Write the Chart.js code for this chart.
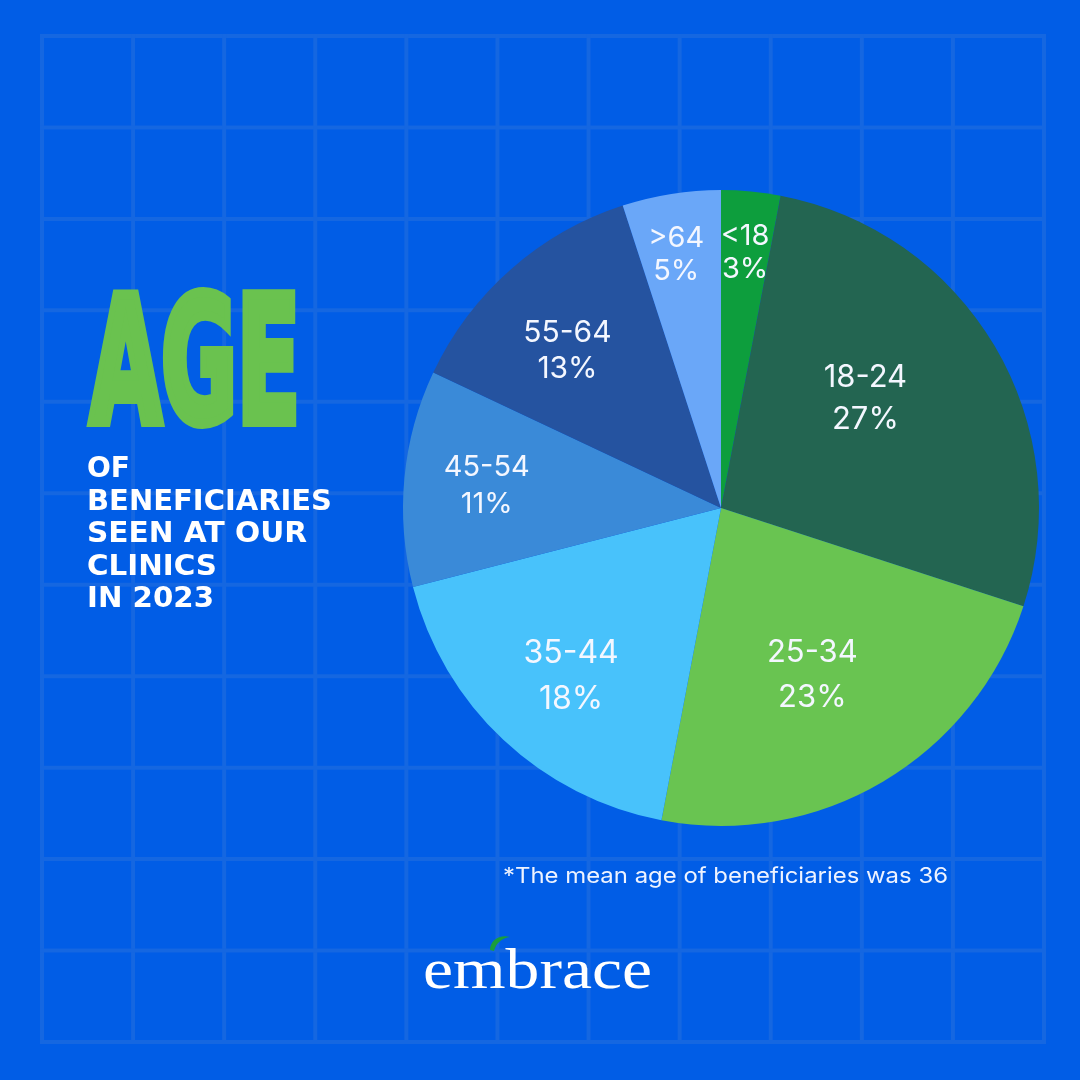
<!DOCTYPE html>
<html><head><meta charset="utf-8">
<script src="https://cdn.jsdelivr.net/npm/chart.js@4.4.1/dist/chart.umd.min.js"></script>
<style>
html,body{margin:0;padding:0;background:#015de6;}
#wrap{position:relative;width:1080px;height:1080px;overflow:hidden;background:#015de6;}
#c{position:absolute;left:0;top:0;}
#ov{position:absolute;left:0;top:0;}
</style></head><body>
<div id="wrap">
<canvas id="c" width="1080" height="1080"></canvas>
<svg id="ov" width="1080" height="1080" xmlns="http://www.w3.org/2000/svg">
  <text x="90" y="422" font-family="'DejaVu Sans Condensed','DejaVu Sans'" font-weight="bold" font-size="175" fill="#6ac24f" stroke="#6ac24f" stroke-width="10" stroke-linejoin="miter" textLength="210" lengthAdjust="spacingAndGlyphs">AGE</text>
  <g font-family="'DejaVu Sans'" font-weight="bold" font-size="28" fill="#ffffff">
    <text x="87" y="477" textLength="43" lengthAdjust="spacingAndGlyphs">OF</text>
    <text x="87" y="509.5" textLength="245" lengthAdjust="spacingAndGlyphs">BENEFICIARIES</text>
    <text x="87" y="542" textLength="220" lengthAdjust="spacingAndGlyphs">SEEN AT OUR</text>
    <text x="87" y="574.5" textLength="130" lengthAdjust="spacingAndGlyphs">CLINICS</text>
    <text x="87" y="607" textLength="127" lengthAdjust="spacingAndGlyphs">IN 2023</text>
  </g>
  <text x="503" y="883" font-family="Inter,'Noto Sans'" font-size="22" fill="#eef3ff" textLength="445" lengthAdjust="spacingAndGlyphs">*The mean age of beneficiaries was 36</text>
  <path d="M490 950 C 490 940, 500 934, 510 937 C 502 938, 496 943, 494 951 Z" fill="#1a9e3c"/>
  <text x="423" y="988" font-family="'Liberation Serif','DejaVu Serif'" font-size="58" fill="#ffffff" textLength="229" lengthAdjust="spacingAndGlyphs">embrace</text>
</svg>
</div>
<script>
// ---- data ----
const categories = ['<18', '18-24', '25-34', '35-44', '45-54', '55-64', '>64'];
const shares = [3, 27, 23, 18, 11, 13, 5];
const percentLabels = ['3%', '27%', '23%', '18%', '11%', '13%', '5%'];

// ---- styles ----
const sliceColors = ['#0d9e3d', '#236551', '#69c451', '#48c2fb', '#3a8ad8', '#2553a0', '#6aa7f8'];
const labelRadiusFrac = [0.805, 0.57, 0.60, 0.71, 0.74, 0.69, 0.81];
const labelAngleShiftDeg = [0, -6.6, 2, -1.6, 0, -3, -1];
const labelFontPx = [29, 31, 31, 32, 29, 30, 29];
const labelLineGap = [33, 42, 45, 46, 37, 36, 33];

const gridPlugin = {
  id: 'bgGrid',
  beforeDraw(chart) {
    const ctx = chart.ctx;
    ctx.save();
    ctx.fillStyle = '#015de6';
    ctx.fillRect(0, 0, chart.width, chart.height);
    ctx.strokeStyle = '#1567e1';
    ctx.lineWidth = 4;
    const x0 = 42, x1 = 1044, y0 = 36, y1 = 1042, n = 11;
    for (let i = 0; i <= n; i++) {
      const x = x0 + (x1 - x0) * i / n;
      ctx.beginPath(); ctx.moveTo(x, y0 - 2); ctx.lineTo(x, y1 + 2); ctx.stroke();
      const y = y0 + (y1 - y0) * i / n;
      ctx.beginPath(); ctx.moveTo(x0 - 2, y); ctx.lineTo(x1 + 2, y); ctx.stroke();
    }
    ctx.restore();
  }
};

const labelPlugin = {
  id: 'sliceLabels',
  afterDatasetsDraw(chart) {
    const ctx = chart.ctx;
    const meta = chart.getDatasetMeta(0);
    ctx.save();
    ctx.fillStyle = '#f4f7ff';
    ctx.textAlign = 'center';
    ctx.textBaseline = 'middle';
    meta.data.forEach((arc, i) => {
      const p = arc.getProps(['x', 'y', 'startAngle', 'endAngle', 'outerRadius'], true);
      const a = (p.startAngle + p.endAngle) / 2 + labelAngleShiftDeg[i] * Math.PI / 180;
      const r = p.outerRadius * labelRadiusFrac[i];
      const cx = p.x + Math.cos(a) * r;
      const cy = p.y + Math.sin(a) * r;
      ctx.font = labelFontPx[i] + 'px Inter, "Noto Sans", sans-serif';
      ctx.fillText(categories[i], cx, cy - labelLineGap[i] / 2);
      ctx.fillText(percentLabels[i], cx, cy + labelLineGap[i] / 2);
    });
    ctx.restore();
  }
};

new Chart(document.getElementById('c'), {
  type: 'pie',
  data: {
    labels: categories,
    datasets: [{ data: shares, backgroundColor: sliceColors, borderWidth: 0 }]
  },
  options: {
    responsive: false,
    animation: false,
    layout: { padding: { left: 403, right: 41, top: 190, bottom: 254 } },
    plugins: { legend: { display: false }, tooltip: { enabled: false } }
  },
  plugins: [gridPlugin, labelPlugin]
});
</script>
</body></html>
